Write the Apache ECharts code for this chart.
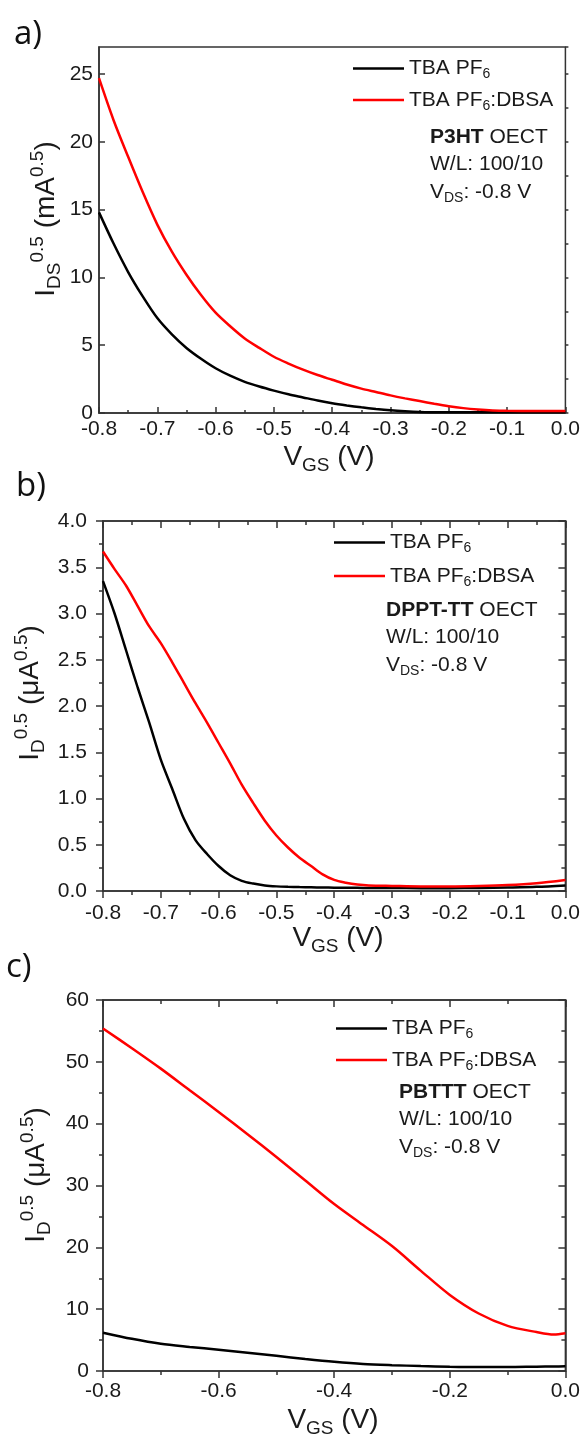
<!DOCTYPE html>
<html><head><meta charset="utf-8">
<script src="https://cdn.jsdelivr.net/npm/echarts@6/dist/echarts.min.js"></script>
<style>html,body{margin:0;padding:0;background:#fff}#c{width:583px;height:1443px}</style>
</head><body><div id="c"></div>
<script>
// ---------- data ----------
// panel a (P3HT)
const aX     = [-0.8,-0.775,-0.75,-0.725,-0.7,-0.675,-0.65,-0.625,-0.6,-0.575,-0.55,-0.525,-0.5,-0.475,-0.45,-0.425,-0.4,-0.375,-0.35,-0.325,-0.3,-0.275,-0.25,-0.225,-0.2,-0.175,-0.15,-0.125,-0.1,-0.05,0];
const aBlack = [14.8,12.5,10.4,8.6,7.0,5.8,4.8,4.0,3.3,2.75,2.3,1.95,1.65,1.38,1.15,0.92,0.72,0.56,0.42,0.30,0.20,0.13,0.08,0.06,0.05,0.05,0.05,0.05,0.05,0.05,0.05];
const aRed   = [24.7,21.6,18.9,16.3,13.9,11.9,10.2,8.7,7.4,6.4,5.5,4.8,4.15,3.65,3.2,2.8,2.45,2.1,1.8,1.55,1.3,1.08,0.88,0.68,0.5,0.36,0.26,0.19,0.16,0.15,0.15];
// panel b (DPPT-TT)
const bX     = [-0.8,-0.78,-0.76,-0.74,-0.72,-0.7,-0.68,-0.66,-0.64,-0.62,-0.6,-0.58,-0.56,-0.54,-0.52,-0.5,-0.48,-0.46,-0.44,-0.42,-0.4,-0.38,-0.36,-0.34,-0.3,-0.25,-0.2,-0.15,-0.1,-0.05,0];
const bBlack = [3.35,3.0,2.6,2.2,1.82,1.42,1.1,0.78,0.55,0.4,0.27,0.17,0.11,0.08,0.06,0.05,0.045,0.042,0.04,0.038,0.036,0.035,0.034,0.033,0.032,0.031,0.031,0.033,0.038,0.045,0.06];
const bRed   = [3.67,3.48,3.30,3.08,2.86,2.68,2.47,2.25,2.03,1.82,1.6,1.38,1.15,0.95,0.76,0.6,0.47,0.36,0.27,0.18,0.12,0.09,0.07,0.06,0.055,0.05,0.05,0.055,0.065,0.085,0.12];
// panel c (PBTTT)
const cX     = [-0.8,-0.75,-0.7,-0.65,-0.6,-0.55,-0.5,-0.45,-0.4,-0.35,-0.3,-0.25,-0.2,-0.15,-0.1,-0.05,-0.02,0];
const cBlack = [6.2,5.2,4.4,3.9,3.45,2.95,2.45,1.95,1.5,1.15,0.95,0.8,0.7,0.65,0.65,0.7,0.72,0.75];
const cRed   = [55.4,52.2,48.9,45.4,41.9,38.3,34.6,30.8,27.0,23.6,20.2,16.2,12.3,9.3,7.3,6.3,5.9,6.1];

const seriesNames = ['TBA PF6','TBA PF6:DBSA'];
const panelLabels = ['a)','b)','c)'];
const materials = ['P3HT','DPPT-TT','PBTTT'];

// ---------- styling ----------
const LINE = '#333', TXT = '#1a1a1a', RED = '#ff0000', BLK = '#000000';
const FF = 'Liberation Sans';
const zip = (xs, ys) => xs.map((x, i) => [x, ys[i]]);
const fmt1 = v => (Math.abs(v) < 1e-9 ? 0 : v).toFixed(1);

function xAx(grid, opt) {
  return Object.assign({
    gridIndex: grid, type: 'value', min: -0.8, max: 0, position: 'bottom',
    axisLine: { show: true, onZero: false, lineStyle: { color: LINE, width: 1.5 } },
    axisTick: { show: true, inside: false, length: 7, lineStyle: { color: LINE, width: 1.5 } },
    minorTick: { show: true, splitNumber: 2, length: 4, lineStyle: { color: LINE, width: 1.5 } },
    splitLine: { show: false }, minorSplitLine: { show: false },
    axisLabel: { show: true, fontSize: 21, fontFamily: FF, color: TXT, margin: 10, formatter: fmt1 }
  }, opt);
}
function yAx(grid, opt) {
  return Object.assign({
    gridIndex: grid, type: 'value', position: 'left',
    axisLine: { show: true, onZero: false, lineStyle: { color: LINE, width: 1.5 } },
    axisTick: { show: true, inside: false, length: 7, lineStyle: { color: LINE, width: 1.5 } },
    minorTick: { show: true, splitNumber: 2, length: 4, lineStyle: { color: LINE, width: 1.5 } },
    splitLine: { show: false }, minorSplitLine: { show: false },
    axisLabel: { show: true, fontSize: 21, fontFamily: FF, color: TXT, margin: 8 }
  }, opt);
}
const noLabel = { show: false };

const grids = [
  { left: 99, top: 47, width: 468, height: 366 },
  { left: 103, top: 521, width: 463, height: 370 },
  { left: 103, top: 1000, width: 463, height: 371 }
].map(g => Object.assign(g, { show: true, borderColor: LINE, borderWidth: 1.5, backgroundColor: 'transparent' }));

const xAxis = [
  // a
  xAx(0, { interval: 0.1,
    axisTick: { show: true, inside: true, length: 6, lineStyle: { color: LINE, width: 1.5 } },
    minorTick: { show: true, splitNumber: 2, length: 3, lineStyle: { color: LINE, width: 1.5 } },
    axisLabel: { fontSize: 21, fontFamily: FF, color: TXT, margin: 6, formatter: fmt1 } }),
  // b
  xAx(1, { interval: 0.1, axisLabel: { fontSize: 21, fontFamily: FF, color: TXT, margin: 12, formatter: fmt1 } }),
  xAx(1, { interval: 0.1, position: 'top', axisLabel: noLabel,
    axisTick: { show: true, inside: true, length: 7, lineStyle: { color: LINE, width: 1.5 } },
    minorTick: { show: true, splitNumber: 2, length: 4, lineStyle: { color: LINE, width: 1.5 } } }),
  // c
  xAx(2, { interval: 0.2, axisLabel: { fontSize: 21, fontFamily: FF, color: TXT, margin: 10, formatter: fmt1 } }),
  xAx(2, { interval: 0.2, position: 'top', axisLabel: noLabel,
    axisTick: { show: true, inside: true, length: 7, lineStyle: { color: LINE, width: 1.5 } },
    minorTick: { show: true, splitNumber: 2, length: 4, lineStyle: { color: LINE, width: 1.5 } } })
];

const yAxis = [
  // a main
  yAx(0, { min: 0, max: 27, interval: 5, minorTick: { show: false },
    axisTick: { show: true, inside: true, length: 6, lineStyle: { color: LINE, width: 1.5 } },
    axisLabel: { fontSize: 21, fontFamily: FF, color: TXT, margin: 6, showMaxLabel: false,
      formatter: v => (v % 5 === 0 ? String(v) : '') } }),
  // a minor ticks
  yAx(0, { min: 0, max: 27, interval: 2.5, minorTick: { show: false }, axisLine: { show: false }, axisLabel: noLabel,
    axisTick: { show: true, inside: true, length: 3, lineStyle: { color: LINE, width: 1.5 } } }),
  // b
  yAx(1, { min: 0, max: 4, interval: 0.5, axisLabel: { fontSize: 21, fontFamily: FF, color: TXT, margin: 16, formatter: fmt1 } }),
  yAx(1, { min: 0, max: 4, interval: 0.5, position: 'right', axisLabel: noLabel,
    axisTick: { show: true, inside: true, length: 7, lineStyle: { color: LINE, width: 1.5 } },
    minorTick: { show: true, splitNumber: 2, length: 4, lineStyle: { color: LINE, width: 1.5 } } }),
  // c
  yAx(2, { min: 0, max: 60, interval: 10, axisLabel: { fontSize: 21, fontFamily: FF, color: TXT, margin: 14 } }),
  yAx(2, { min: 0, max: 60, interval: 10, position: 'right', axisLabel: noLabel,
    axisTick: { show: true, inside: true, length: 7, lineStyle: { color: LINE, width: 1.5 } },
    minorTick: { show: true, splitNumber: 2, length: 4, lineStyle: { color: LINE, width: 1.5 } } })
];

function ser(name, color, xi, yi, xs, ys) {
  return { type: 'line', name, xAxisIndex: xi, yAxisIndex: yi, data: zip(xs, ys),
    showSymbol: false, symbol: 'none', smooth: 0.3, animation: false,
    lineStyle: { color, width: 2.5 }, itemStyle: { color }, z: 3 };
}
const series = [
  ser(seriesNames[0], BLK, 0, 0, aX, aBlack), ser(seriesNames[1], RED, 0, 0, aX, aRed),
  ser(seriesNames[0], BLK, 1, 2, bX, bBlack), ser(seriesNames[1], RED, 1, 2, bX, bRed),
  ser(seriesNames[0], BLK, 3, 4, cX, cBlack), ser(seriesNames[1], RED, 3, 4, cX, cRed)
];

const legendRich = {
  n: { fontSize: 21, fontFamily: FF, color: TXT, lineHeight: 26 },
  s: { fontSize: 14, fontFamily: FF, color: TXT, lineHeight: 14, verticalAlign: 'bottom' }
};
const legendFmt = name => name === 'TBA PF6' ? '{n|TBA PF}{s|6}' : '{n|TBA PF}{s|6}{n|:DBSA}';
function legend(left, top, gap) {
  return { left, top, orient: 'vertical', padding: 0, icon: 'rect', itemWidth: 51, itemHeight: 2.5, itemGap: gap,
    data: seriesNames, selectedMode: false, formatter: legendFmt,
    textStyle: { fontSize: 21, fontFamily: FF, color: TXT, rich: legendRich } };
}

// text graphics
const richBase = {
  m: { fontSize: 21, fontFamily: FF, fill: TXT, lineHeight: 26 },
  b: { fontSize: 21, fontFamily: FF, fill: TXT, fontWeight: 'bold', lineHeight: 26 },
  s: { fontSize: 14, fontFamily: FF, fill: TXT, lineHeight: 14, verticalAlign: 'bottom' }
};
function txt(x, y, text, rich, extra) {
  return Object.assign({ type: 'text', x, y, z: 10,
    style: { text, rich, fontSize: 21, fontFamily: FF, fill: TXT, align: 'left', verticalAlign: 'middle' } }, extra || {});
}
const titleRich = {
  m: { fontSize: 28, fontFamily: FF, fill: TXT, lineHeight: 36 },
  sub: { fontSize: 19, fontFamily: FF, fill: TXT, lineHeight: 19, verticalAlign: 'bottom' },
  sup: { fontSize: 19, fontFamily: FF, fill: TXT, lineHeight: 17, verticalAlign: 'top' }
};
function title(x, y, text, rot) {
  return { type: 'text', x, y, rotation: rot || 0, z: 10,
    style: { text, rich: titleRich, fontFamily: FF, fontSize: 28, align: 'center', verticalAlign: 'middle', fill: TXT } };
}
function plabel(x, y, t) {
  return { type: 'text', x, y, z: 10,
    style: { text: t, fontSize: 33, fontFamily: 'Open Sans', fill: '#111', align: 'left', verticalAlign: 'middle' } };
}
function annot(x, y0, mat) {
  return [
    txt(x, y0, '{b|' + mat + '}{m| OECT}', richBase),
    txt(x, y0 + 27, '{m|W/L: 100/10}', richBase),
    txt(x, y0 + 55, '{m|V}{s|DS}{m|: -0.8 V}', richBase)
  ];
}

const graphic = [
  plabel(14, 35, panelLabels[0]), plabel(16, 487, panelLabels[1]), plabel(6, 968, panelLabels[2]),
  title(329, 457, '{m|V}{sub|GS}{m| (V)}'),
  title(338, 938, '{m|V}{sub|GS}{m| (V)}'),
  title(333, 1420, '{m|V}{sub|GS}{m| (V)}'),
  title(46, 219, '{m|I}{sub|DS}{sup|0.5}{m| (mA}{sup|0.5}{m|)}', Math.PI / 2),
  title(30, 693, '{m|I}{sub|D}{sup|0.5}{m| (μA}{sup|0.5}{m|)}', Math.PI / 2),
  title(36, 1175, '{m|I}{sub|D}{sup|0.5}{m| (μA}{sup|0.5}{m|)}', Math.PI / 2),
  ...annot(430, 137, materials[0]),
  ...annot(386, 610, materials[1]),
  ...annot(399, 1092, materials[2])
];

const chart = echarts.init(document.getElementById('c'), null, { renderer: 'canvas' });
chart.setOption({
  animation: false,
  backgroundColor: '#fff',
  grid: grids, xAxis, yAxis, series,
  legend: [legend(353, 58, 8), legend(334, 532, 10), legend(336, 1018, 8)],
  graphic
});
</script></body></html>
